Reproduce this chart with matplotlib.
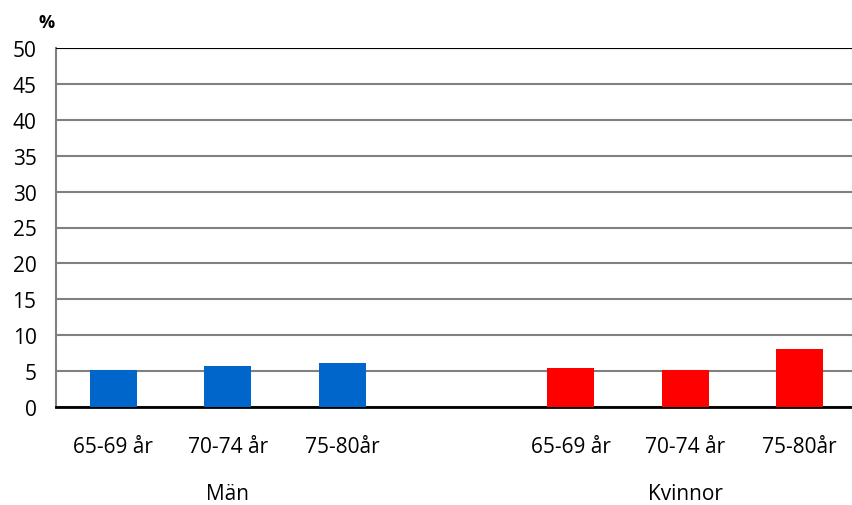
import numpy as np
import matplotlib as mpl
mpl.use('Agg')
import matplotlib.pyplot as plt

plt.rcParams['font.family'] = ['Open Sans', 'DejaVu Sans']

age_labels = ['65-69 år', '70-74 år', '75-80år']
groups = ['Män', 'Kvinnor']
man = [5.2, 5.7, 6.1]
kvinnor = [5.4, 5.2, 8.1]

x_man = np.arange(3)
x_kv = np.arange(3) + 4

fig = plt.figure(figsize=(8.52, 5.06), dpi=100)
ax = fig.add_axes([56/852, 98/506, 801/852, 359/506])

ax.bar(x_man, man, width=0.41, color='#0066CC', zorder=3)
ax.bar(x_kv, kvinnor, width=0.41, color='#FF0000', zorder=3)

ax.set_xlim(-0.5, 6.5)
ax.set_ylim(0, 50)
ax.set_yticks(np.arange(0, 51, 5))
ax.yaxis.grid(True, color='#808080', lw=1.5, zorder=0)
ax.tick_params(axis='y', length=0, labelsize=15, pad=14)
ax.tick_params(axis='x', length=0, labelsize=15, pad=21)
ax.set_xticks(list(x_man) + list(x_kv))
ax.set_xticklabels(age_labels + age_labels)

for s in ['top', 'right']:
    ax.spines[s].set_visible(False)
ax.spines['left'].set_color('#808080')
ax.spines['left'].set_linewidth(1.5)
ax.spines['bottom'].set_color('black')
ax.spines['bottom'].set_linewidth(2)
ax.axhline(50, color='black', lw=1.5, zorder=4)

for xc, g in zip([1, 5], groups):
    ax.text(xc, -0.24, g, transform=ax.get_xaxis_transform(),
            ha='center', va='center', fontsize=15)

fig.text(47/852, 1 - 23/506, '%', ha='center', va='center',
         fontsize=13, fontweight='bold')

fig.savefig('out.png', dpi=100)
